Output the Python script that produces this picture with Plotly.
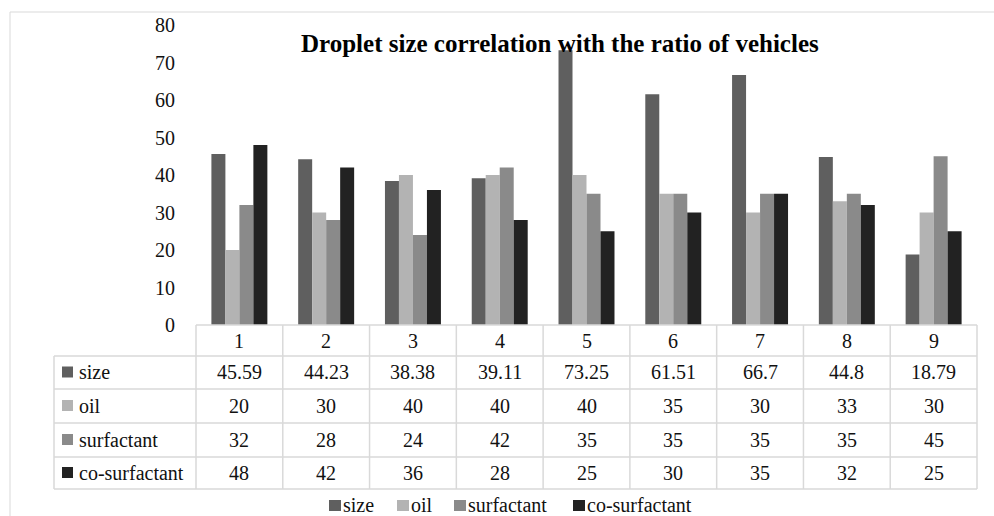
import plotly.graph_objects as go

# ---- data ----
categories = ["1", "2", "3", "4", "5", "6", "7", "8", "9"]
series_names = ["size", "oil", "surfactant", "co-surfactant"]
size_vals = [45.59, 44.23, 38.38, 39.11, 73.25, 61.51, 66.7, 44.8, 18.79]
oil_vals = [20, 30, 40, 40, 40, 35, 30, 33, 30]
surfactant_vals = [32, 28, 24, 42, 35, 35, 35, 35, 45]
cosurf_vals = [48, 42, 36, 28, 25, 30, 35, 32, 25]
y_ticks = [0, 10, 20, 30, 40, 50, 60, 70, 80]
title_text = "Droplet size correlation with the ratio of vehicles"

series_vals = [size_vals, oil_vals, surfactant_vals, cosurf_vals]
colors = ["#5f5f5f", "#b3b3b3", "#8a8a8a", "#222222"]

# ---- layout geometry (pixels) ----
W, H = 994, 516
L, R, T, B = 196, 977, 25, 325
PW, PH = R - L, B - T
FONT = "Liberation Serif"
GRID = "#d9d9d9"
TXT = "#111111"


def px(p):
    return (p - L) / PW


def py(p):
    return (B - p) / PH


fig = go.Figure()
for name, vals, col in zip(series_names, series_vals, colors):
    fig.add_trace(go.Bar(x=categories, y=vals, name=name, marker_color=col,
                         marker_line_width=0, showlegend=False))

shapes = []
annotations = []

# outer chart border
shapes.append(dict(type="rect", xref="paper", yref="paper",
                   x0=px(10), x1=px(1005), y0=py(530), y1=py(12),
                   line=dict(color=GRID, width=1), layer="below"))

# table lines
row_lines = [325, 356, 389, 423, 457, 489]
ncol = len(categories)
colw = PW / ncol
for i, yy in enumerate(row_lines):
    x0 = L if i == 0 else 54
    shapes.append(dict(type="line", xref="paper", yref="paper",
                       x0=px(x0), x1=px(R), y0=py(yy), y1=py(yy),
                       line=dict(color=GRID, width=1.5)))
for j in range(ncol + 1):
    xx = L + j * colw
    shapes.append(dict(type="line", xref="paper", yref="paper",
                       x0=px(xx), x1=px(xx), y0=py(325), y1=py(489),
                       line=dict(color=GRID, width=1.5)))
shapes.append(dict(type="line", xref="paper", yref="paper",
                   x0=px(54), x1=px(54), y0=py(356), y1=py(489),
                   line=dict(color=GRID, width=1.5)))

# header row (category labels)
for j, c in enumerate(categories):
    annotations.append(dict(xref="paper", yref="paper",
                            x=px(L + (j + 0.5) * colw), y=py((325 + 356) / 2),
                            text=c, showarrow=False, xanchor="center", yanchor="middle",
                            font=dict(family=FONT, size=20, color=TXT)))

# data rows
for i, (name, vals, col) in enumerate(zip(series_names, series_vals, colors)):
    yc = (row_lines[i + 1] + row_lines[i + 2]) / 2
    shapes.append(dict(type="rect", xref="paper", yref="paper",
                       x0=px(62), x1=px(73), y0=py(yc + 5), y1=py(yc - 6),
                       fillcolor=col, line=dict(width=0)))
    annotations.append(dict(xref="paper", yref="paper", x=px(77), y=py(yc),
                            text=name, showarrow=False, xanchor="left", yanchor="middle",
                            font=dict(family=FONT, size=20, color=TXT)))
    for j, v in enumerate(vals):
        annotations.append(dict(xref="paper", yref="paper",
                                x=px(L + (j + 0.5) * colw), y=py(yc),
                                text=f"{v:g}", showarrow=False,
                                xanchor="center", yanchor="middle",
                                font=dict(family=FONT, size=20, color=TXT)))

# bottom legend (manual)
leg_x = [329, 397, 454, 573]
leg_y = 505
for name, col, x0 in zip(series_names, colors, leg_x):
    shapes.append(dict(type="rect", xref="paper", yref="paper",
                       x0=px(x0), x1=px(x0 + 12), y0=py(leg_y + 6), y1=py(leg_y - 5),
                       fillcolor=col, line=dict(width=0)))
    annotations.append(dict(xref="paper", yref="paper", x=px(x0 + 12), y=py(leg_y),
                            text=name, showarrow=False, xanchor="left", yanchor="middle",
                            font=dict(family=FONT, size=20, color=TXT)))

# title
annotations.append(dict(xref="paper", yref="paper", x=px(560), y=py(43),
                        text="<b>" + title_text + "</b>", showarrow=False,
                        xanchor="center", yanchor="middle",
                        font=dict(family=FONT, size=25, color="#000")))

fig.update_layout(
    width=W, height=H,
    margin=dict(l=L, r=W - R, t=T, b=H - B, pad=0),
    paper_bgcolor="white", plot_bgcolor="white",
    barmode="group", bargap=0.355, bargroupgap=0,
    font=dict(family=FONT, size=20, color=TXT),
    shapes=shapes, annotations=annotations,
    showlegend=False,
)
fig.update_xaxes(showticklabels=False, showgrid=False, zeroline=False,
                 showline=False, ticks="", range=[-0.5, 8.5])
fig.update_yaxes(range=[0, 80], tickvals=y_ticks, showgrid=False, zeroline=False,
                 showline=False, ticks="", ticklabelstandoff=20,
                 tickfont=dict(family=FONT, size=20, color=TXT))

fig.write_html("out.html", config={"displayModeBar": False},
               post_script="document.body.style.margin='0';document.body.style.overflow='hidden';")
